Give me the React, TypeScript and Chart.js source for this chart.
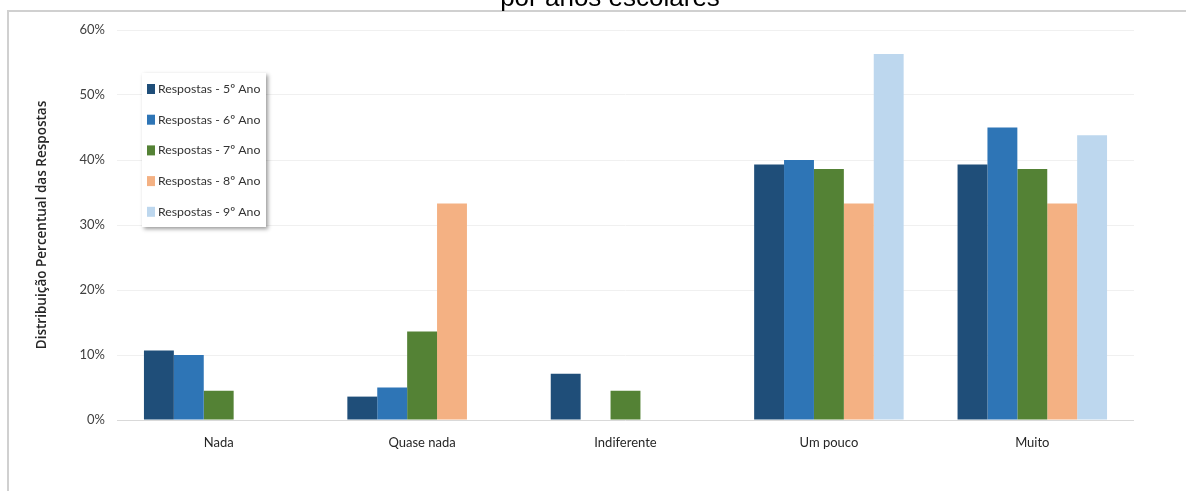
import React, { useEffect, useRef } from 'react';
import { Chart, registerables } from 'chart.js';

Chart.register(...registerables);

// Answer categories on the x axis
const categories = ['Nada', 'Quase nada', 'Indiferente', 'Um pouco', 'Muito'];

// Share of answers (%) per school year
const seriesLabels = [
  'Respostas - 5º Ano',
  'Respostas - 6º Ano',
  'Respostas - 7º Ano',
  'Respostas - 8º Ano',
  'Respostas - 9º Ano',
];
const ano5 = [10.7, 3.6, 7.1, 39.3, 39.3];
const ano6 = [10.0, 5.0, 0, 40.0, 45.0];
const ano7 = [4.5, 13.6, 4.5, 38.6, 38.6];
const ano8 = [0, 33.3, 0, 33.3, 33.3];
const ano9 = [0, 0, 0, 56.3, 43.8];

const seriesColors = ['#1F4E79', '#2E75B6', '#548235', '#F4B183', '#BDD7EE'];

const yMin = 0;
const yMax = 60;
const yStep = 10;

const titleText = 'por anos escolares';
const yAxisTitle = 'Distribuição Percentual das Respostas';

const baseFont = 'Lato, "Noto Sans", sans-serif';

// Second line of the chart heading, partly above the canvas edge
const headingPlugin = {
  id: 'heading',
  afterDraw(chart: any) {
    const { ctx } = chart;
    ctx.save();
    ctx.font = '26px "Liberation Sans", Arial, sans-serif';
    ctx.fillStyle = '#000';
    ctx.textAlign = 'center';
    ctx.textBaseline = 'alphabetic';
    ctx.fillText(titleText, 610, 6);
    ctx.restore();
  },
};

// Framed legend with a drop shadow, placed inside the plot area
const boxLegendPlugin = {
  id: 'boxLegend',
  afterDatasetsDraw(chart: any) {
    const { ctx, chartArea } = chart;
    const x = chartArea.left + 25;
    const y = chartArea.top + 43;
    const w = 124;
    const h = 154;
    ctx.save();
    ctx.shadowColor = 'rgba(0,0,0,0.4)';
    ctx.shadowBlur = 4;
    ctx.shadowOffsetX = 2;
    ctx.shadowOffsetY = 2;
    ctx.fillStyle = '#ffffff';
    ctx.fillRect(x, y, w, h);
    ctx.shadowColor = 'transparent';
    ctx.shadowBlur = 0;
    ctx.shadowOffsetX = 0;
    ctx.shadowOffsetY = 0;
    ctx.font = '12.3px ' + baseFont;
    ctx.textBaseline = 'middle';
    ctx.textAlign = 'left';
    chart.data.datasets.forEach((ds: any, i: number) => {
      const cy = y + 16 + i * 30.7;
      ctx.fillStyle = ds.backgroundColor;
      ctx.fillRect(x + 5, cy - 5, 8, 10);
      ctx.fillStyle = '#333333';
      ctx.fillText(ds.label, x + 16, cy);
    });
    ctx.restore();
  },
};

export default function App() {
  const canvasRef = useRef<HTMLCanvasElement | null>(null);

  useEffect(() => {
    if (!canvasRef.current) return;
    const values = [ano5, ano6, ano7, ano8, ano9];
    const chart = new Chart(canvasRef.current, {
      type: 'bar',
      data: {
        labels: categories,
        datasets: values.map((data, i) => ({
          label: seriesLabels[i],
          data,
          backgroundColor: seriesColors[i],
          borderWidth: 0,
          categoryPercentage: 0.735,
          barPercentage: 1,
        })),
      },
      options: {
        responsive: false,
        animation: false,
        layout: { padding: { top: 30, right: 52, left: 0, bottom: 0 } },
        plugins: {
          legend: { display: false },
          title: { display: false },
          tooltip: { enabled: false },
        },
        scales: {
          x: {
            grid: { display: false, drawTicks: false },
            border: { display: false },
            ticks: {
              padding: 15,
              color: '#262626',
              font: { family: baseFont, size: 13 },
            },
            afterFit(scale: any) {
              scale.height = 71;
            },
          },
          y: {
            min: yMin,
            max: yMax,
            ticks: {
              stepSize: yStep,
              padding: 12,
              color: '#404040',
              font: { family: baseFont, size: 13 },
              callback: (v: any) => v + '%',
            },
            grid: {
              drawTicks: false,
              color: (c: any) => (c.tick && c.tick.value === 0 ? '#d9d9d9' : '#f0f0f0'),
              lineWidth: 1,
            },
            border: { display: false },
            title: {
              display: true,
              text: yAxisTitle,
              color: '#262626',
              font: { family: '"Open Sans", sans-serif', size: 13.5, weight: '600' },
              padding: { top: 34, bottom: 0 },
            },
            afterFit(scale: any) {
              scale.width = 117;
            },
          },
        },
      },
      plugins: [boxLegendPlugin, headingPlugin],
    });
    return () => chart.destroy();
  }, []);

  return (
    <div
      style={{
        position: 'fixed',
        left: 0,
        top: 0,
        width: 1186,
        height: 491,
        overflow: 'hidden',
        background: '#ffffff',
      }}
    >
      <div
        style={{
          position: 'absolute',
          left: 7,
          top: 10,
          width: 1300,
          height: 600,
          borderLeft: '2px solid #d0d0d0',
          borderTop: '2px solid #d0d0d0',
        }}
      />
      <canvas
        ref={canvasRef}
        width={1186}
        height={491}
        style={{ position: 'absolute', left: 0, top: 0 }}
      />
    </div>
  );
}
